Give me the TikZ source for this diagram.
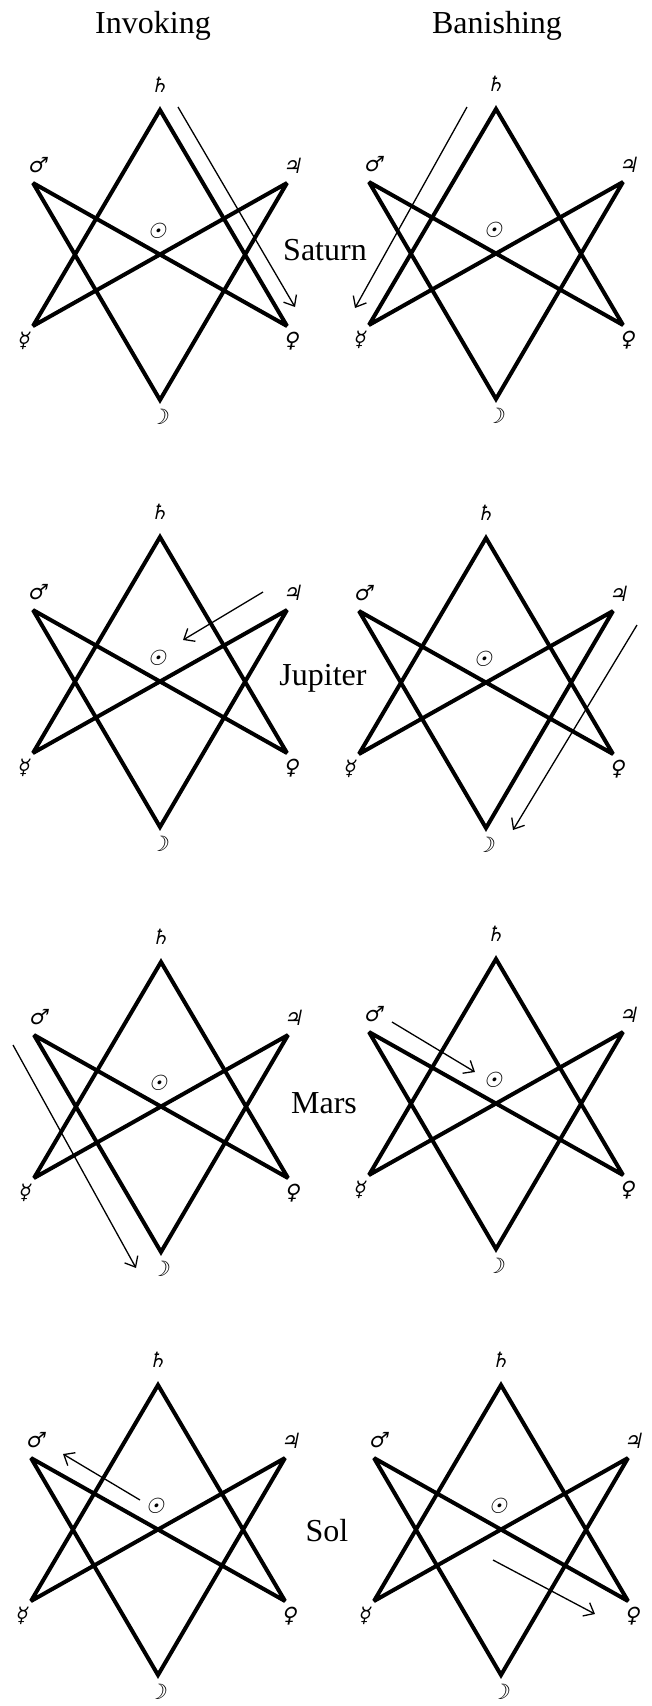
\documentclass[tikz,border=0pt]{standalone}
\usepackage{fontspec}
\setmainfont{Liberation Serif}
\newfontfamily\planetfont[FakeSlant=0.2]{DejaVu Sans}
\usetikzlibrary{arrows.meta}

\tikzset{
  figure line/.style={line width=4pt, line join=miter, miter limit=2.5},
  stroke arrow/.style={line width=1.3pt, -{Straight Barb[length=9pt,width=15pt,line width=1.3pt]}},
  planet/.style={font=\planetfont\fontsize{21}{21}\selectfont, inner sep=0pt},
  heading/.style={font=\fontsize{32}{36}\selectfont, anchor=base, inner sep=0pt},
}

% one unicursal hexagram with its planets: name, x, y of the centre
\newcommand{\hexagram}[3]{%
  \begin{scope}[shift={(#2,#3)}]
    \coordinate (#1-top) at (0,-145);
    \coordinate (#1-ul) at (-127,-72);
    \coordinate (#1-ur) at (127,-72);
    \coordinate (#1-ll) at (-127,71);
    \coordinate (#1-lr) at (127,71);
    \coordinate (#1-bot) at (0,145);
    \draw[figure line] (#1-top) -- (#1-lr) -- (#1-ul) -- (#1-bot) -- (#1-ur) -- (#1-ll) -- cycle;
    \node[planet] (#1-saturn) at (-1,-170) {♄};
    \node[planet] (#1-mars) at (-123,-90) {♂};
    \node[planet] (#1-jupiter) at (132,-89) {♃};
    \node[planet] (#1-sol) at (-3,-24) {☉};
    \node[planet] (#1-mercury) at (-137,86) {☿};
    \node[planet] (#1-venus) at (131,86) {♀};
    \node[planet] (#1-luna) at (-1,162) {☽};
  \end{scope}}

\begin{document}
\begin{tikzpicture}[x=1pt, y=-1pt]
\useasboundingbox (0,0) rectangle (651,1706);

\node[heading] (invoking) at (153,33) {Invoking};
\node[heading] (banishing) at (497,33) {Banishing};

\hexagram{saturn-inv}{160}{255}
\hexagram{saturn-ban}{496}{254}
\hexagram{jupiter-inv}{160}{682}
\hexagram{jupiter-ban}{486}{683}
\hexagram{mars-inv}{161}{1107}
\hexagram{mars-ban}{496}{1104}
\hexagram{sol-inv}{158}{1530}
\hexagram{sol-ban}{501}{1530}

\node[heading] (saturn) at (325,260) {Saturn};
\node[heading] (jupiter) at (323,685) {Jupiter};
\node[heading] (mars) at (324,1113) {Mars};
\node[heading] (sol) at (327,1541) {Sol};

% direction of the stroke
\coordinate (saturn-inv-start) at (178,107);
\coordinate (saturn-inv-end) at (295,307);
\coordinate (saturn-ban-start) at (467,107);
\coordinate (saturn-ban-end) at (355,308);
\coordinate (jupiter-inv-start) at (263,592);
\coordinate (jupiter-inv-end) at (183,640);
\coordinate (jupiter-ban-start) at (637,625);
\coordinate (jupiter-ban-end) at (513,830);
\coordinate (mars-inv-start) at (13,1045);
\coordinate (mars-inv-end) at (136,1268);
\coordinate (mars-ban-start) at (392,1022);
\coordinate (mars-ban-end) at (475,1072);
\coordinate (sol-inv-start) at (140,1500);
\coordinate (sol-inv-end) at (63,1454);
\coordinate (sol-ban-start) at (493,1560);
\coordinate (sol-ban-end) at (595,1614);

\draw[stroke arrow] (saturn-inv-start) -- (saturn-inv-end);
\draw[stroke arrow] (saturn-ban-start) -- (saturn-ban-end);
\draw[stroke arrow] (jupiter-inv-start) -- (jupiter-inv-end);
\draw[stroke arrow] (jupiter-ban-start) -- (jupiter-ban-end);
\draw[stroke arrow] (mars-inv-start) -- (mars-inv-end);
\draw[stroke arrow] (mars-ban-start) -- (mars-ban-end);
\draw[stroke arrow] (sol-inv-start) -- (sol-inv-end);
\draw[stroke arrow] (sol-ban-start) -- (sol-ban-end);
\end{tikzpicture}
\end{document}
